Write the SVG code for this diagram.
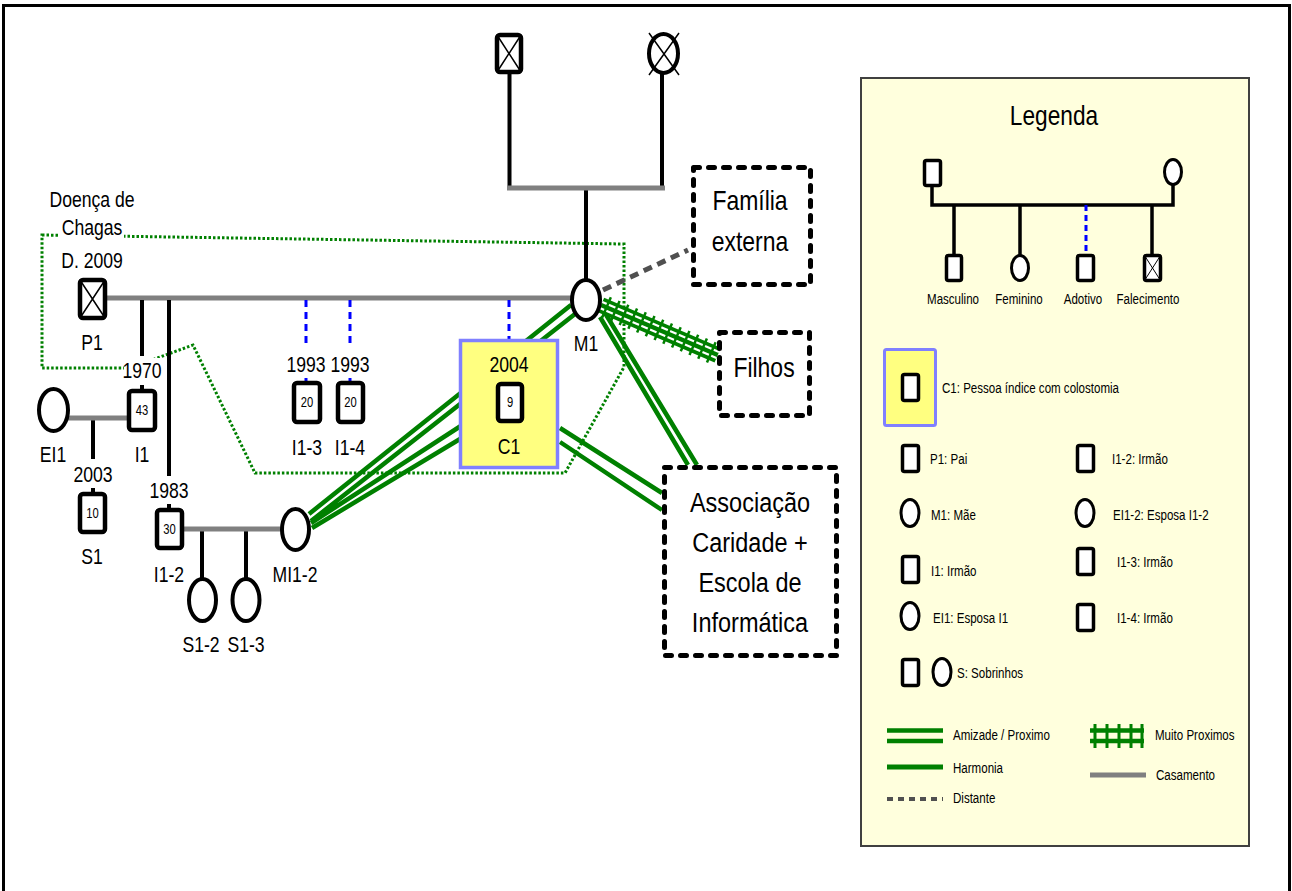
<svg xmlns="http://www.w3.org/2000/svg" width="1292" height="891" viewBox="0 0 1292 891">
<style>
text{font-family:"Liberation Sans",Arial,sans-serif;fill:#000}
.m{text-anchor:middle}
.s22{font-size:22px}
.s28{font-size:28px}
.s13{font-size:14px}
.s15{font-size:15px}
.sq{fill:#fff;stroke:#000;stroke-width:4.5}
.ci{fill:#fff;stroke:#000;stroke-width:4}
.lsq{fill:#fff;stroke:#000;stroke-width:3.5}
.lci{fill:#fff;stroke:#000;stroke-width:3}
.x{stroke:#000;stroke-width:1.5;fill:none}
.mar{stroke:#808080;stroke-width:5;fill:none}
.kid{stroke:#000;stroke-width:4;fill:none}
.adop{stroke:#0000ff;stroke-width:3;stroke-dasharray:7 5;fill:none}
.gr{stroke:#008000;stroke-width:4.5;fill:none}
.dist{stroke:#505050;stroke-width:5;stroke-dasharray:9 6;fill:none}
.box{fill:#fff;stroke:#000;stroke-width:5;stroke-dasharray:6 9;stroke-linecap:round;stroke-linejoin:round}
</style>
<rect x="0" y="0" width="1292" height="891" fill="#fff"/>
<path d="M3.5,900V5.5H1289.5V900" fill="none" stroke="#000" stroke-width="3"/>

<g id="connectors">
<polygon points="42,235 624,244 624,367 565,473 255,473 193,345 130,368 42,368" fill="none" stroke="#008000" stroke-width="3" stroke-dasharray="2.5 2"/>
<rect x="60" y="214" width="64" height="25" fill="#fff"/>
<rect x="124" y="358" width="38" height="23" fill="#fff"/>
<path class="kid" d="M509.5,72V188M662,73V188M586,188V280"/>
<path class="mar" d="M507,188H665"/>
<path class="mar" d="M105,298H572"/>
<path class="kid" d="M142,300V356M142,385V391M169,300V476M169,504V510M93,418V459M93,488V494M202,529V579M246,529V579"/>
<path class="mar" d="M68,418H129M182,529H282"/>
<path class="adop" d="M306,300V347M350,300V347M509,300V340"/>
<path d="M306,378V383M350,378V383" stroke="#0000ff" stroke-width="3"/>
<path class="dist" d="M603,290L688,250"/>
<path class="gr" d="M571,305L309,514M575,314L311,521M470,420L311,523M470,433L312,528"/>
<path class="gr" d="M560,428L662,493M560,442L662,510"/>
<path class="gr" d="M600,317L688,465M605,313L697,465"/>
<g transform="translate(601,305) rotate(23.2)">
<path d="M0,0H127" stroke="#008000" stroke-width="16"/>
<path d="M0,-3.25H127M0,3.25H127" stroke="#fff" stroke-width="2.2"/>
<path d="M6,-11V11M15.5,-11V11M25,-11V11M34.5,-11V11M44,-11V11M53.5,-11V11M63,-11V11M72.5,-11V11M82,-11V11M91.5,-11V11M101,-11V11M110.5,-11V11M120,-11V11" stroke="#008000" stroke-width="2.5"/>
</g>
</g>

<g id="gf">
<rect class="sq" x="497" y="35" width="24" height="37" rx="3"/>
<path class="x" d="M497,35L521,72M521,35L497,72"/>
</g>
<g id="gm">
<ellipse class="ci" cx="663.5" cy="53.5" rx="14.5" ry="19.5"/>
<path class="x" d="M649,33L679,75M679,33L649,75"/>
</g>
<g id="P1">
<rect class="sq" x="80" y="280" width="25" height="38" rx="3"/>
<path class="x" d="M80,280L105,318M105,280L80,318"/>
<text class="m s22" transform="translate(92,207) scale(0.8,1)">Doença de</text>
<text class="m s22" transform="translate(92,235) scale(0.8,1)">Chagas</text>
<text class="m s22" transform="translate(92,268) scale(0.8,1)">D. 2009</text>
<text class="m s22" transform="translate(92,350) scale(0.8,1)">P1</text>
</g>
<g id="M1">
<ellipse class="ci" cx="586" cy="300" rx="14" ry="20"/>
<text class="m s22" transform="translate(586,351) scale(0.8,1)">M1</text>
</g>
<g id="I1">
<rect class="sq" x="129" y="391" width="26" height="39" rx="3"/>
<text class="m s13" transform="translate(142,415) scale(0.8,1)">43</text>
<text class="m s22" transform="translate(142,378) scale(0.8,1)">1970</text>
<text class="m s22" transform="translate(142,462) scale(0.8,1)">I1</text>
</g>
<g id="EI1">
<ellipse class="ci" cx="53.5" cy="410" rx="14.5" ry="21"/>
<text class="m s22" transform="translate(53,462) scale(0.8,1)">EI1</text>
</g>
<g id="S1">
<rect class="sq" x="80" y="494" width="25" height="38" rx="3"/>
<text class="m s13" transform="translate(92.5,518) scale(0.8,1)">10</text>
<text class="m s22" transform="translate(93,482) scale(0.8,1)">2003</text>
<text class="m s22" transform="translate(92,564) scale(0.8,1)">S1</text>
</g>
<g id="I1-2">
<rect class="sq" x="157" y="510" width="25" height="38" rx="3"/>
<text class="m s13" transform="translate(169.5,534) scale(0.8,1)">30</text>
<text class="m s22" transform="translate(169,498) scale(0.8,1)">1983</text>
<text class="m s22" transform="translate(169,582) scale(0.8,1)">I1-2</text>
</g>
<g id="MI1-2">
<ellipse class="ci" cx="295.5" cy="529.5" rx="13.5" ry="20.5"/>
<text class="m s22" transform="translate(295,582) scale(0.8,1)">MI1-2</text>
</g>
<g id="S1-2">
<ellipse class="ci" cx="202.5" cy="600" rx="13.5" ry="21"/>
<text class="m s22" transform="translate(201,652) scale(0.8,1)">S1-2</text>
</g>
<g id="S1-3">
<ellipse class="ci" cx="246" cy="600" rx="13.5" ry="21"/>
<text class="m s22" transform="translate(246,652) scale(0.8,1)">S1-3</text>
</g>
<g id="I1-3">
<rect class="sq" x="294" y="383" width="26" height="39" rx="3"/>
<text class="m s13" transform="translate(307,407) scale(0.8,1)">20</text>
<text class="m s22" transform="translate(306,372) scale(0.8,1)">1993</text>
<text class="m s22" transform="translate(307,455) scale(0.8,1)">I1-3</text>
</g>
<g id="I1-4">
<rect class="sq" x="338" y="383" width="25" height="39" rx="3"/>
<text class="m s13" transform="translate(350.5,407) scale(0.8,1)">20</text>
<text class="m s22" transform="translate(350,372) scale(0.8,1)">1993</text>
<text class="m s22" transform="translate(350,455) scale(0.8,1)">I1-4</text>
</g>
<g id="C1">
<rect x="460.5" y="340.5" width="97" height="127" fill="#ffff80" stroke="#8080ff" stroke-width="3.5"/>
<rect class="sq" x="498" y="384" width="24" height="37" rx="3"/>
<text class="m s13" transform="translate(510,407) scale(0.8,1)">9</text>
<text class="m s22" transform="translate(509,372) scale(0.8,1)">2004</text>
<text class="m s22" transform="translate(509,454) scale(0.8,1)">C1</text>
</g>
<g id="familia">
<rect class="box" x="693.5" y="167.5" width="117" height="117"/>
<text class="m s28" transform="translate(750,210) scale(0.82,1)">Família</text>
<text class="m s28" transform="translate(750,251) scale(0.82,1)">externa</text>
</g>
<g id="filhos">
<rect class="box" x="719.5" y="332.5" width="90" height="83"/>
<text class="m s28" transform="translate(764,377) scale(0.82,1)">Filhos</text>
</g>
<g id="associacao">
<rect class="box" x="664.5" y="467.5" width="172" height="188"/>
<text class="m s28" transform="translate(750,512) scale(0.84,1)">Associação</text>
<text class="m s28" transform="translate(750,552) scale(0.84,1)">Caridade +</text>
<text class="m s28" transform="translate(750,592) scale(0.84,1)">Escola de</text>
<text class="m s28" transform="translate(750,632) scale(0.84,1)">Informática</text>
</g>

<g id="legend">
<rect x="861" y="78" width="388" height="768" fill="#ffffdd" stroke="#404040" stroke-width="2"/>
<text class="m s28" transform="translate(1054,125) scale(0.81,1)">Legenda</text>
<path d="M932,186V205H1173V185M954,205V255M1020,205V255M1152,205V255" stroke="#000" stroke-width="3.5" fill="none"/>
<path d="M1086,205V255" stroke="#0000ff" stroke-width="3" stroke-dasharray="6 4" fill="none"/>
<rect class="lsq" x="924.5" y="160.5" width="16" height="25" rx="2"/>
<ellipse class="lci" cx="1173" cy="172" rx="8.5" ry="12.5"/>
<rect class="lsq" x="946.5" y="255.5" width="15" height="25" rx="2"/>
<ellipse class="lci" cx="1020" cy="268" rx="8.5" ry="12.5"/>
<rect class="lsq" x="1077.5" y="255.5" width="16" height="25" rx="2"/>
<rect class="lsq" x="1144.5" y="255.5" width="16" height="25" rx="2"/>
<path d="M1144.5,255.5L1160.5,280.5M1160.5,255.5L1144.5,280.5" stroke="#000" stroke-width="1" fill="none"/>
<text class="m s15" transform="translate(953,304) scale(0.77,1)">Masculino</text>
<text class="m s15" transform="translate(1019,304) scale(0.77,1)">Feminino</text>
<text class="m s15" transform="translate(1083,304) scale(0.77,1)">Adotivo</text>
<text class="m s15" transform="translate(1148,304) scale(0.77,1)">Falecimento</text>

<rect x="884.5" y="349.5" width="51" height="76" fill="#ffff80" stroke="#8080ff" stroke-width="3" rx="2"/>
<rect class="lsq" x="902.5" y="374.5" width="16" height="26" rx="2"/>
<text class="s15" transform="translate(942,393) scale(0.77,1)">C1: Pessoa índice com colostomia</text>

<rect class="lsq" x="902.5" y="445.5" width="16" height="26" rx="2"/>
<text class="s15" transform="translate(930,464) scale(0.77,1)">P1: Pai</text>
<rect class="lsq" x="1077.5" y="445.5" width="16" height="26" rx="2"/>
<text class="s15" transform="translate(1112,464) scale(0.77,1)">I1-2: Irmão</text>
<ellipse class="lci" cx="910" cy="513" rx="9" ry="13.5"/>
<text class="s15" transform="translate(931,520) scale(0.77,1)">M1: Mãe</text>
<ellipse class="lci" cx="1085" cy="513" rx="9" ry="13.5"/>
<text class="s15" transform="translate(1113,520) scale(0.77,1)">EI1-2: Esposa I1-2</text>
<rect class="lsq" x="902.5" y="556.5" width="16" height="26" rx="2"/>
<text class="s15" transform="translate(931,576) scale(0.77,1)">I1: Irmão</text>
<rect class="lsq" x="1077.5" y="548.5" width="16" height="26" rx="2"/>
<text class="s15" transform="translate(1117,567) scale(0.77,1)">I1-3: Irmão</text>
<ellipse class="lci" cx="910" cy="616" rx="9" ry="13.5"/>
<text class="s15" transform="translate(933,623) scale(0.77,1)">EI1: Esposa I1</text>
<rect class="lsq" x="1077.5" y="604.5" width="16" height="26" rx="2"/>
<text class="s15" transform="translate(1117,623) scale(0.77,1)">I1-4: Irmão</text>
<rect class="lsq" x="902.5" y="659.5" width="16" height="26" rx="2"/>
<ellipse class="lci" cx="942" cy="672" rx="9" ry="13.5"/>
<text class="s15" transform="translate(957,678) scale(0.77,1)">S: Sobrinhos</text>

<path d="M887,730.5H943M887,741H943" stroke="#008000" stroke-width="4.5" fill="none"/>
<text class="s15" transform="translate(953,740) scale(0.77,1)">Amizade / Proximo</text>
<path d="M887,767H943" stroke="#008000" stroke-width="5" fill="none"/>
<text class="s15" transform="translate(953,773) scale(0.77,1)">Harmonia</text>
<path d="M887,799H943" stroke="#505050" stroke-width="4" stroke-dasharray="6 5" fill="none"/>
<text class="s15" transform="translate(953,803) scale(0.77,1)">Distante</text>
<path d="M1090,730.5H1144M1090,741H1144" stroke="#008000" stroke-width="4.5" fill="none"/>
<path d="M1095,724V748M1107,724V748M1119,724V748M1131,724V748M1142,724V748" stroke="#008000" stroke-width="3" fill="none"/>
<text class="s15" transform="translate(1155,740) scale(0.77,1)">Muito Proximos</text>
<path d="M1090,775H1146" stroke="#808080" stroke-width="5" fill="none"/>
<text class="s15" transform="translate(1156,780) scale(0.77,1)">Casamento</text>
</g>
</svg>
